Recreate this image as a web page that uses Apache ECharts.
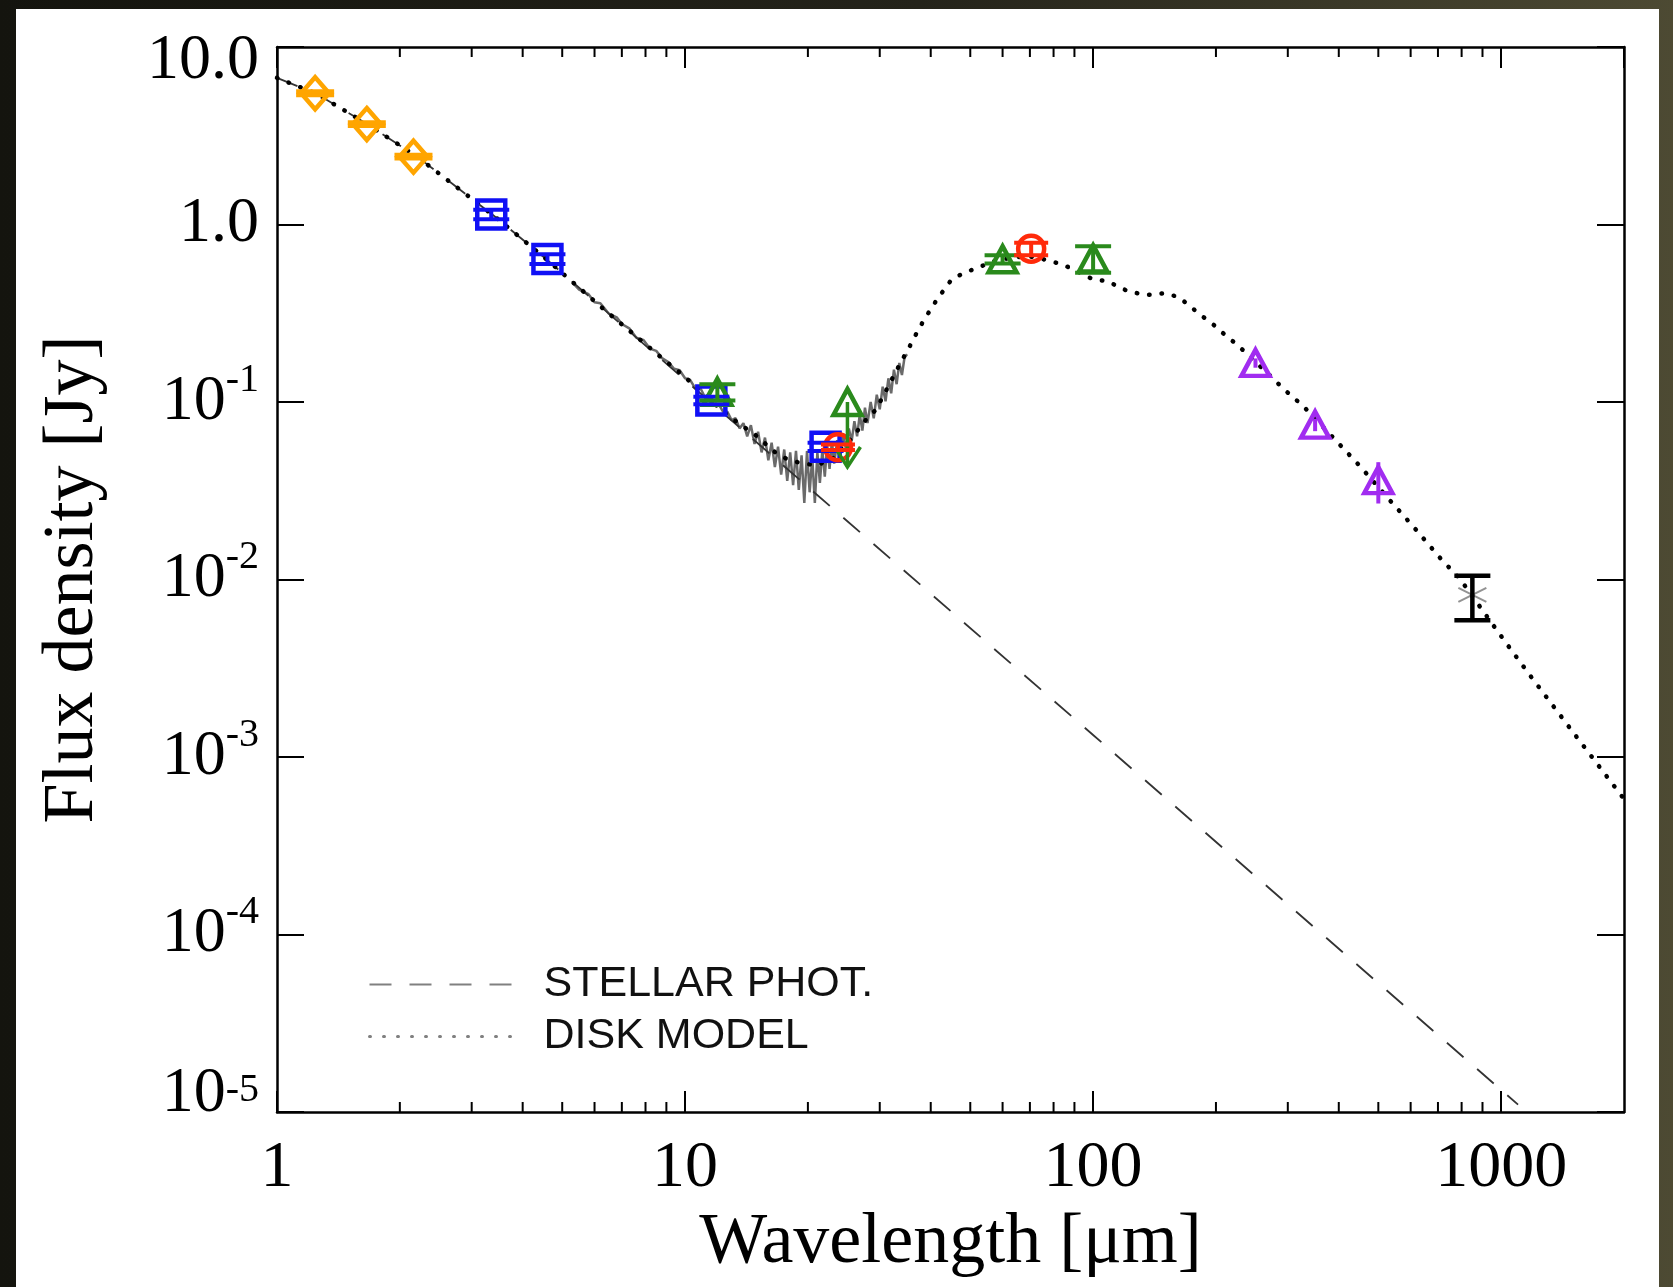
<!DOCTYPE html>
<html>
<head>
<meta charset="utf-8">
<title>SED</title>
<script src="https://cdn.jsdelivr.net/npm/echarts/dist/echarts.min.js"></script>
<style>
  html, body { margin: 0; padding: 0; }
  body { width: 1673px; height: 1287px; position: relative; overflow: hidden;
         background: linear-gradient(90deg, #14140e 0%, #24231a 55%, #4d4a33 100%); }
  #paper { position: absolute; left: 16px; top: 9px; width: 1643px; height: 1278px; background: #fff; }
  #chart { position: absolute; left: 0; top: 0; width: 1673px; height: 1287px; }
</style>
</head>
<body>
<div id="paper"></div>
<div id="chart"></div>
<script>
// photometry: [wavelength (um), flux (Jy), error (Jy)]
var twoMass = [[1.24, 5.49, 0.12], [1.66, 3.68, 0.08], [2.16, 2.41, 0.05]]
var wise = [[3.35, 1.14, 0.07], [4.6, 0.64, 0.04], [11.6, 0.102, 0.005], [22.1, 0.056, 0.003]]
var iras = [[12, 0.114, 0.012], [60, 0.637, 0.035], [100, 0.645, 0.11]]
// upper limit: [wavelength, limit, arrow tip]
var irasLimit = [[25, 0.1, 0.043]]
var mips = [[23.7, 0.0556, 0.002], [70.5, 0.73, 0.06]]
var spire = [[250, 0.166, 0.01], [350, 0.0745, 0.006], [500, 0.0363, 0.0095]]
var scuba = [[850, 0.0082, 0.0023]]

var photosphere = [[1, 6.7], [1.25, 5.45], [1.65, 3.72], [2.2, 2.42], [3.4, 1.12], [4.6, 0.63],
  [10, 0.133], [100, 0.00133], [1100, 1.1e-5]]

var diskModel = [[1, 6.7], [1.25, 5.45], [1.65, 3.72], [2.2, 2.42], [3.4, 1.12], [4.6, 0.63],
  [5.5, 0.44], [6.4, 0.325], [7.4, 0.246], [8.7, 0.18], [9.9, 0.141], [11.5, 0.103], [13, 0.081],
  [14.9, 0.065], [16.8, 0.051], [18, 0.047], [19.5, 0.045], [21, 0.044], [23, 0.048], [25.6, 0.0625],
  [27.7, 0.079], [29.3, 0.09], [30.4, 0.105], [32.7, 0.145], [34, 0.172], [35.3, 0.2], [36.6, 0.235],
  [38.5, 0.29], [41.5, 0.38], [45, 0.49], [48, 0.53], [52, 0.57], [58, 0.63], [65, 0.655], [70, 0.66],
  [76, 0.635], [82, 0.605], [88, 0.57], [100, 0.49], [108, 0.48], [122, 0.42], [135, 0.4], [150, 0.41],
  [162, 0.39], [172, 0.35], [183, 0.31], [195, 0.279], [207, 0.247], [220, 0.22], [233, 0.196],
  [252, 0.165], [275, 0.137], [291, 0.12], [327, 0.095], [385, 0.064], [450, 0.0437], [526, 0.029],
  [611, 0.0197], [711, 0.0131], [792, 0.0101], [942, 0.0058], [1035, 0.0043], [1180, 0.00286],
  [1500, 0.00138], [2000, 0.00058]]

var irsSpectrum = [[5.3, 0.47], [5.5, 0.43], [5.8, 0.405], [6.0, 0.365], [6.2, 0.36], [6.5, 0.315],
  [6.8, 0.3], [7.0, 0.275], [7.3, 0.26], [7.6, 0.23], [7.9, 0.224], [8.2, 0.2], [8.5, 0.194],
  [8.8, 0.176], [9.1, 0.168], [9.4, 0.154], [9.7, 0.151], [10.0, 0.136], [10.3, 0.133], [10.6, 0.119],
  [10.9, 0.12], [11.2, 0.106], [11.5, 0.107], [11.8, 0.096], [12.1, 0.097], [12.4, 0.088], [12.7, 0.088],
  [13.0, 0.079], [13.3, 0.081], [13.6, 0.071], [13.9, 0.076], [14.2, 0.064], [14.5, 0.074], [14.8, 0.058],
  [15.1, 0.068], [15.4, 0.052], [15.7, 0.063], [16.0, 0.047], [16.3, 0.059], [16.6, 0.043], [16.9, 0.056],
  [17.2, 0.039], [17.5, 0.054], [17.8, 0.036], [18.1, 0.052], [18.4, 0.034], [18.7, 0.053], [19.0, 0.032],
  [19.3, 0.05], [19.6, 0.027], [19.9, 0.053], [20.2, 0.031], [20.5, 0.049], [20.8, 0.027], [21.1, 0.052],
  [21.4, 0.035], [21.7, 0.054], [22.0, 0.038], [22.3, 0.057], [22.6, 0.042], [22.9, 0.06], [23.2, 0.045],
  [23.6, 0.061], [24.0, 0.049], [24.4, 0.066], [24.8, 0.054], [25.2, 0.071], [25.6, 0.06], [26.0, 0.078],
  [26.4, 0.064], [26.8, 0.085], [27.2, 0.069], [27.6, 0.093], [28.0, 0.076], [28.5, 0.1], [29.0, 0.081],
  [29.5, 0.11], [30.0, 0.091], [30.5, 0.122], [31.0, 0.101], [31.5, 0.136], [32.0, 0.112], [32.5, 0.152],
  [33.0, 0.126], [33.5, 0.166], [34.0, 0.142], [34.5, 0.178], [35.0, 0.186]]

var xMinorTicks = [2, 3, 4, 5, 6, 7, 8, 9, 20, 30, 40, 50, 60, 70, 80, 90, 200, 300, 400, 500, 600, 700, 800, 900]

var SERIF = 'Liberation Serif'
var X_MIN = 1, X_MAX = 2000, Y_MIN = 1e-5, Y_MAX = 10

function markers (data, symbol, size, color) {
  return {
    type: 'scatter',
    data: data.map(d => [d[0], d[1]]),
    symbol: symbol,
    symbolSize: size,
    itemStyle: { color: 'rgba(255,255,255,0)', borderColor: color, borderWidth: 4.5, opacity: 1 },
    z: 4,
    silent: true
  }
}

function errorBars (data, color, cap, width) {
  return {
    type: 'custom',
    data: data.map(d => [d[0], d[1] - d[2], d[1] + d[2]]),
    encode: { x: 0, y: [1, 2] },
    z: 5,
    silent: true,
    renderItem: function (params, api) {
      var lo = api.coord([api.value(0), api.value(1)])
      var hi = api.coord([api.value(0), api.value(2)])
      var s = { stroke: color, lineWidth: width }
      var kids = [{ type: 'line', shape: { x1: lo[0], y1: lo[1], x2: hi[0], y2: hi[1] }, style: s }]
      if (cap > 0) {
        kids.push({ type: 'line', shape: { x1: lo[0] - cap / 2, y1: lo[1], x2: lo[0] + cap / 2, y2: lo[1] }, style: s })
        kids.push({ type: 'line', shape: { x1: hi[0] - cap / 2, y1: hi[1], x2: hi[0] + cap / 2, y2: hi[1] }, style: s })
      }
      return { type: 'group', children: kids }
    }
  }
}

var myChart = echarts.init(document.getElementById('chart'))

var axisLine = { show: true, lineStyle: { color: '#000', width: 2.5 } }

myChart.setOption({
  backgroundColor: 'transparent',
  animation: false,
  grid: { left: 277, right: 49, top: 47, bottom: 175 },
  xAxis: [
    {
      type: 'log', logBase: 10, min: X_MIN, max: X_MAX,
      name: 'Wavelength [μm]', nameLocation: 'middle', nameGap: 86,
      nameTextStyle: { fontFamily: SERIF, fontSize: 72, color: '#000' },
      axisLine: axisLine,
      axisTick: { inside: true, length: 21, lineStyle: { color: '#000', width: 2 } },
      axisLabel: {
        margin: 24, fontFamily: SERIF, fontSize: 66, color: '#000', showMaxLabel: false,
        formatter: v => String(Math.round(v))
      },
      splitLine: { show: false }
    },
    {
      type: 'log', logBase: 10, min: X_MIN, max: X_MAX, position: 'top',
      axisLine: axisLine,
      axisTick: { inside: true, length: 21, lineStyle: { color: '#000', width: 2 } },
      axisLabel: { show: false },
      splitLine: { show: false }
    }
  ],
  yAxis: [
    {
      type: 'log', logBase: 10, min: Y_MIN, max: Y_MAX,
      name: 'Flux density [Jy]', nameLocation: 'middle', nameGap: 168, nameRotate: 90,
      nameTextStyle: { fontFamily: SERIF, fontSize: 72, color: '#000' },
      axisLine: axisLine,
      axisTick: { inside: true, length: 27, lineStyle: { color: '#000', width: 2 } },
      axisLabel: {
        margin: 18, color: '#000', fontFamily: SERIF, fontSize: 64,
        formatter: function (v) {
          var e = Math.round(Math.log10(v))
          if (e === 1) return '{t|10.0}'
          if (e === 0) return '{n|1.0}'
          if (e === -5) return '{bb|10}{s|' + e + '}'
          return '{b|10}{s|' + e + '}'
        },
        rich: {
          t: { fontFamily: SERIF, fontSize: 64, padding: [28, 0, 0, 0] },
          n: { fontFamily: SERIF, fontSize: 64 },
          b: { fontFamily: SERIF, fontSize: 64, lineHeight: 84 },
          bb: { fontFamily: SERIF, fontSize: 64, lineHeight: 84, padding: [0, 0, 36, 0] },
          s: { fontFamily: SERIF, fontSize: 40, verticalAlign: 'top', lineHeight: 40 }
        }
      },
      splitLine: { show: false }
    },
    {
      type: 'log', logBase: 10, min: Y_MIN, max: Y_MAX, position: 'right',
      axisLine: axisLine,
      axisTick: { inside: true, length: 27, lineStyle: { color: '#000', width: 2 } },
      axisLabel: { show: false },
      splitLine: { show: false }
    }
  ],
  legend: {
    orient: 'vertical', left: 363, top: 958, itemWidth: 145, itemHeight: 14, itemGap: 9,
    selectedMode: false,
    itemStyle: { opacity: 0 },
    data: [
      { name: 'STELLAR PHOT.', lineStyle: { color: '#808080', width: 2, type: [22, 18] } },
      { name: 'DISK MODEL', lineStyle: { color: '#808080', width: 3, type: [1, 13], cap: 'round' } }
    ],
    textStyle: { fontFamily: 'Liberation Sans', fontSize: 43, color: '#111', padding: [0, 0, 0, 24] }
  },
  series: [
    {
      type: 'custom',
      data: xMinorTicks.map(v => [v, 1]),
      encode: { x: 0, y: 1 },
      silent: true,
      z: 6,
      renderItem: function (params, api) {
        var b = api.coord([api.value(0), Y_MIN])
        var t = api.coord([api.value(0), Y_MAX])
        var s = { stroke: '#000', lineWidth: 2 }
        return {
          type: 'group',
          children: [
            { type: 'line', shape: { x1: b[0], y1: b[1], x2: b[0], y2: b[1] - 10 }, style: s },
            { type: 'line', shape: { x1: t[0], y1: t[1], x2: t[0], y2: t[1] + 10 }, style: s }
          ]
        }
      }
    },
    {
      name: 'IRS',
      type: 'line',
      data: irsSpectrum,
      symbol: 'none',
      lineStyle: { color: '#6a6a6a', width: 2.5 },
      z: 1,
      silent: true
    },
    {
      name: 'STELLAR PHOT.',
      type: 'line',
      data: photosphere,
      symbol: 'none',
      lineStyle: { color: '#333', width: 1.8, type: [22, 18] },
      z: 2,
      silent: true
    },
    {
      name: 'DISK MODEL',
      type: 'line',
      data: diskModel,
      symbol: 'none',
      lineStyle: { color: '#000', width: 4.5, type: [0.5, 12], cap: 'round' },
      z: 3,
      silent: true
    },
    markers(twoMass, 'diamond', [28, 32], '#FFA500'),
    errorBars(twoMass, '#FFA500', 38, 4.5),
    markers(wise, 'rect', [28, 28], '#1010F5'),
    errorBars(wise, '#1010F5', 36, 4),
    markers(iras, 'triangle', [28, 26], '#2A8A1C'),
    errorBars(iras, '#2A8A1C', 36, 4),
    markers(irasLimit, 'triangle', [28, 26], '#2A8A1C'),
    {
      type: 'custom',
      data: irasLimit,
      encode: { x: 0, y: [1, 2] },
      z: 5,
      silent: true,
      renderItem: function (params, api) {
        var top = api.coord([api.value(0), api.value(1)])
        var tip = api.coord([api.value(0), api.value(2)])
        var s = { stroke: '#2A8A1C', lineWidth: 3.5, fill: 'none' }
        return {
          type: 'group',
          children: [
            { type: 'line', shape: { x1: top[0], y1: top[1], x2: tip[0], y2: tip[1] }, style: s },
            { type: 'polyline', shape: { points: [[tip[0] - 10, tip[1] - 16], tip, [tip[0] + 13, tip[1] - 20]] }, style: s }
          ]
        }
      }
    },
    markers(mips, 'circle', 26, '#FF2A0A'),
    errorBars(mips, '#FF2A0A', 34, 4),
    markers(spire, 'triangle', [28, 26], '#A12CF0'),
    errorBars(spire, '#A12CF0', 0, 4),
    {
      type: 'scatter',
      data: scuba.map(d => [d[0], d[1]]),
      symbol: 'path://M0,-10L0,10M-8.66,-5L8.66,5M-8.66,5L8.66,-5',
      symbolSize: 28,
      itemStyle: { color: 'rgba(0,0,0,0)', borderColor: '#777', borderWidth: 2 },
      z: 4,
      silent: true
    },
    errorBars(scuba, '#000', 36, 4.5)
  ]
})
</script>
</body>
</html>
